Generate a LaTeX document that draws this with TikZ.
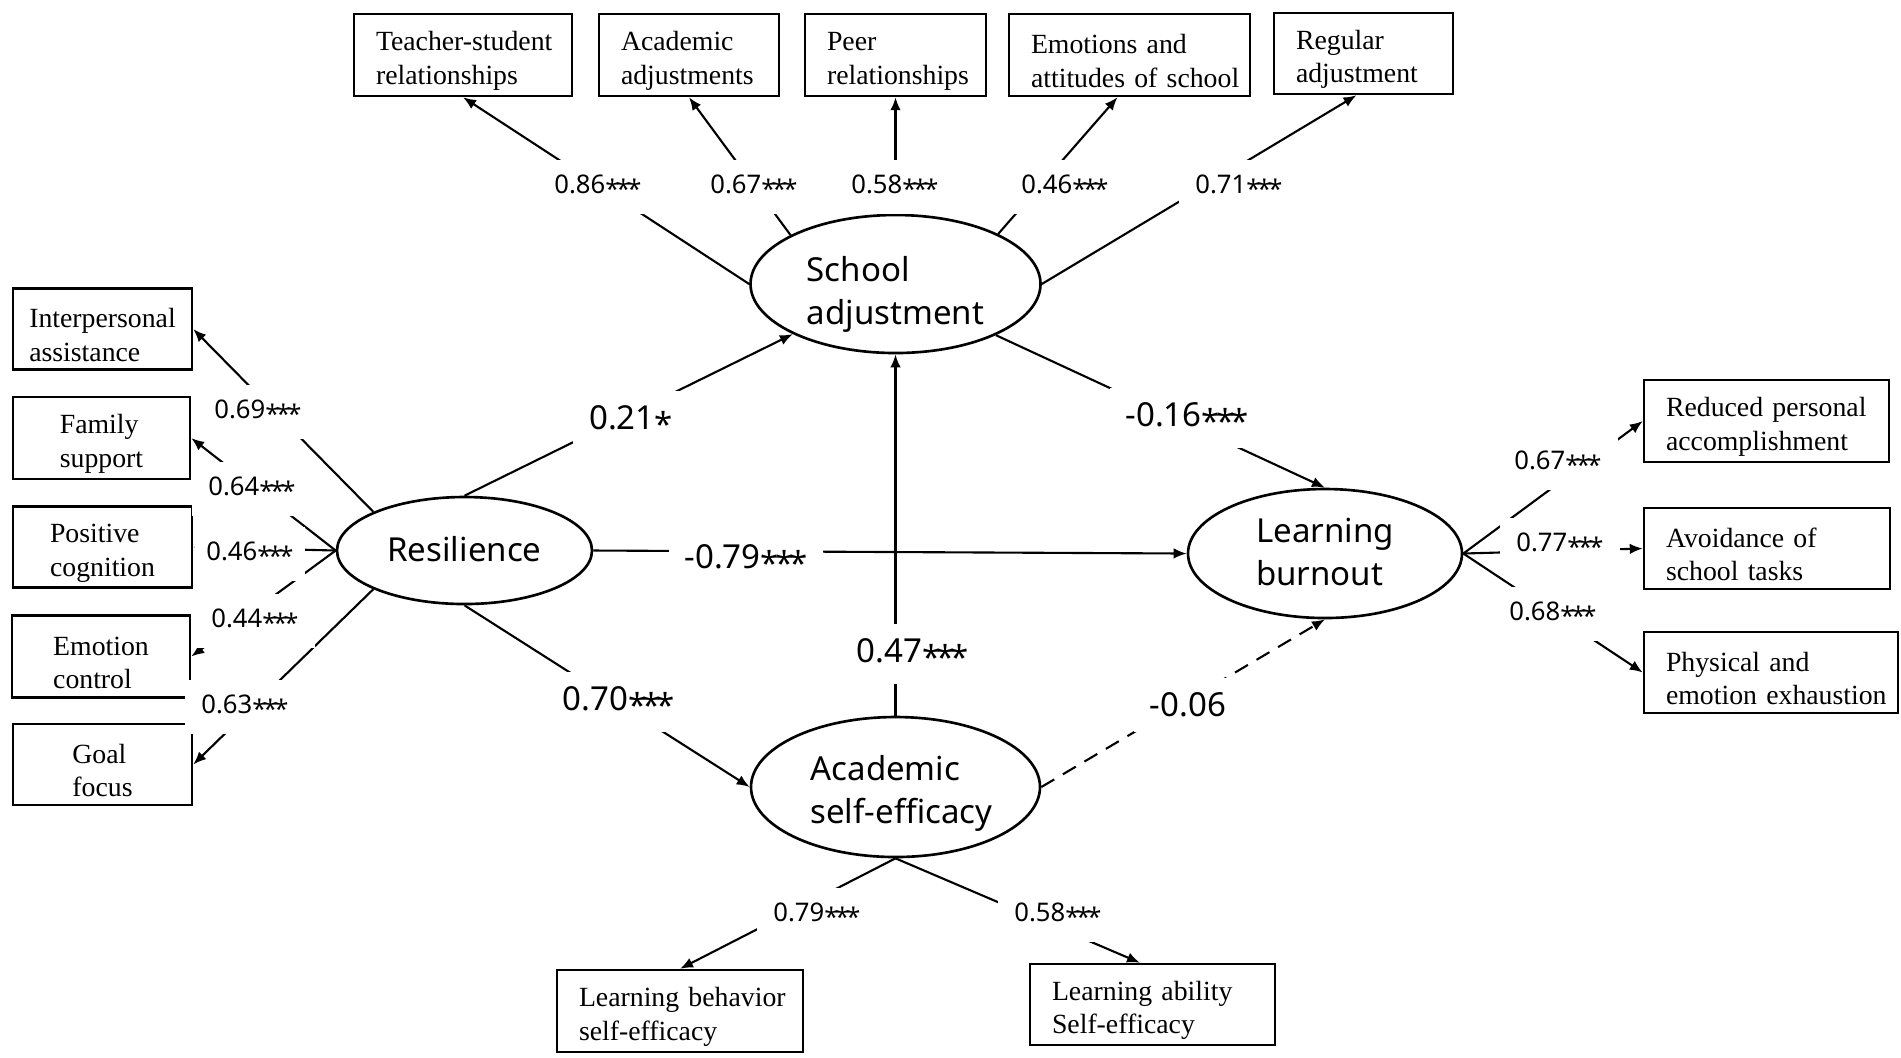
\documentclass[tikz,border=0pt]{standalone}
\usepackage{fontspec}
\setmainfont{Liberation Serif}
\newfontfamily\sansf{Noto Sans}
\usetikzlibrary{arrows.meta,shapes.geometric}
\newcommand{\sig}[1]{\raisebox{-0.2em}{#1}}
\newcommand{\tri}{\sig{*\kern-0.12em*\kern-0.12em*}}
\newcommand{\twol}[2]{\mbox{\rule{0pt}{1.12em}#1}\\\mbox{#2}}
\newcommand{\ltext}[3]{\hspace*{#1}\raisebox{-#2}[\height][\depth]{\begin{tabular}{@{}l@{}}#3\end{tabular}}}
\begin{document}
\begin{tikzpicture}[x=0.1mm,y=-0.1mm]
\tikzset{
  tbox/.style={draw, line width=0.7pt, inner sep=0pt, align=left,
               font=\fontsize{7.9}{9.6}\selectfont},
  lat/.style={draw, ellipse, line width=0.75pt, inner sep=0pt,
              font=\sansf\fontsize{9.4}{12.3}\selectfont},
  conn/.style={line width=0.6pt, -{Latex[length=1.3mm,width=1.05mm]}},
  dconn/.style={conn, dash pattern=on 1.5mm off 1mm},
  slab/.style={fill=white, inner xsep=1.6mm, inner ysep=1.5mm,
               font=\sansf\fontsize{7.3}{9}\selectfont},
  blab/.style={fill=white, inner xsep=1.6mm, inner ysep=1.5mm,
               font=\sansf\fontsize{9.4}{11}\selectfont}
}
\fill[white] (0,0) rectangle (1901,1057);
\useasboundingbox (0,0) rectangle (1901,1057);

% latent variables
\node[lat, minimum width=29mm, minimum height=13.8mm] (sa) at (895.5,284) {\ltext{0mm}{1.0mm}{School\\adjustment}};
\node[lat, minimum width=25.5mm, minimum height=10.7mm] (res) at (464.5,550.5) {\ltext{0mm}{0.2mm}{Resilience}};
\node[lat, minimum width=27.4mm, minimum height=12.9mm] (lb) at (1325,553.5) {\ltext{0mm}{0.2mm}{Learning\\burnout}};
\node[lat, minimum width=28.9mm, minimum height=14mm] (ase) at (895.5,787) {\ltext{1.2mm}{0.6mm}{Academic\\self-efficacy}};

% resilience indicators
\node[tbox, minimum width=17.9mm, minimum height=8.1mm] (ip) at (102.5,329) {\twol{Interpersonal}{assistance}};
\node[tbox, minimum width=17.7mm, minimum height=8.2mm] (fs) at (101.5,438) {\twol{Family}{support}};
\node[tbox, minimum width=17.9mm, minimum height=8.1mm] (pc) at (102.5,547) {\twol{Positive}{cognition}};
\node[tbox, minimum width=17.8mm, minimum height=8.2mm] (ec) at (101,656.5) {\twol{Emotion}{control}};
\node[tbox, minimum width=17.9mm, minimum height=8.1mm] (gf) at (102.5,764.5) {\twol{Goal}{focus}};

% school adjustment indicators
\node[tbox, minimum width=21.8mm, text width=17.4mm, minimum height=8.2mm] (ts) at (463,55) {\twol{Teacher-student}{relationships}};
\node[tbox, minimum width=18.0mm, text width=13.6mm, minimum height=8.2mm] (ac) at (689,55) {\twol{Academic}{adjustments}};
\node[tbox, minimum width=18.1mm, text width=13.7mm, minimum height=8.2mm] (pr) at (895.5,55) {\twol{Peer}{relationships}};
\node[tbox, minimum width=24.1mm, text width=19.7mm, minimum height=8.2mm] (em) at (1129.5,55) {\twol{Emotions and}{attitudes of school}};
\node[tbox, minimum width=17.9mm, text width=13.5mm, minimum height=8.1mm] (rg) at (1363.5,53.5) {\twol{Regular}{adjustment}};

% learning burnout indicators
\node[tbox, minimum width=24.5mm, text width=20.1mm, minimum height=8.2mm] (rp) at (1766.5,421) {\twol{Reduced personal}{accomplishment}};
\node[tbox, minimum width=24.6mm, text width=20.2mm, minimum height=8.1mm] (av) at (1767,548.5) {\twol{Avoidance of}{school tasks}};
\node[tbox, minimum width=25.4mm, text width=21.0mm, minimum height=8.1mm] (pe) at (1771,672.5) {\twol{Physical and}{emotion exhaustion}};

% academic self-efficacy indicators
\node[tbox, minimum width=24.6mm, text width=20.2mm, minimum height=8.2mm] (lbs) at (680,1011) {\twol{Learning behavior}{self-efficacy}};
\node[tbox, minimum width=24.5mm, text width=20.1mm, minimum height=8.1mm] (las) at (1152.5,1004.5) {\twol{Learning ability}{Self-efficacy}};

% connectors: loadings
\draw[conn] (sa.west) -- (ts.south);
\draw[conn] (sa.155) -- (ac.south);
\draw[conn] (sa.north) -- (pr.south);
\draw[conn] (sa.26) -- ([xshift=-1.2mm]em.south);
\draw[conn] (sa.east) -- ([xshift=-0.7mm]rg.south);

\draw[conn] (res.157) -- (ip.east);
\draw[conn] (res.west) -- (fs.east);
\draw[conn] (res.west) -- (pc.east);
\draw[conn] (res.west) -- (ec.east);
\draw[conn] (res.203) -- (gf.east);

\draw[conn] (lb.east) -- (rp.west);
\draw[conn] (lb.east) -- (av.west);
\draw[conn] (lb.east) -- (pe.west);

\draw[conn] (ase.south) -- (lbs.north);
\draw[conn] (ase.south) -- ([xshift=-1.25mm]las.north);

% structural paths
\draw[conn] (res.north) -- (sa.206);
\draw[conn] (res.east) -- (lb.west);
\draw[conn] (res.south) -- (ase.west);
\draw[conn] (ase.north) -- (sa.south);
\draw[conn] (sa.333) -- (lb.north);
\draw[dconn] (ase.east) -- (lb.south);

% labels
\node[slab] (l86) at (598,187) {0.86\tri};
\node[slab] (l67) at (754,187) {0.67\tri};
\node[slab] (l58) at (895,187) {0.58\tri};
\node[slab] (l46) at (1065,187) {0.46\tri};
\node[slab] (l71) at (1239,187) {0.71\tri};

\node[slab] (l69) at (258,412) {0.69\tri};
\node[slab] (l64) at (252,489) {0.64\tri};
\node[slab, inner xsep=1.1mm] (l46b) at (250,554) {0.46\tri};
\node[slab] (l44) at (255,621) {0.44\tri};
\node[slab] (l63) at (245,707) {0.63\tri};

\node[slab] (l67b) at (1558,463) {0.67\tri};
\node[slab] (l77) at (1560,545) {0.77\tri};
\node[slab] (l68) at (1553,614) {0.68\tri};

\node[slab] (l79) at (817,915) {0.79\tri};
\node[slab] (l58b) at (1058,915) {0.58\tri};

\node[blab] (l21) at (631,421) {0.21\sig{*}};
\node[blab] (l79b) at (746,560) {-0.79\tri};
\node[blab] (l70) at (619,702) {0.70\tri};
\node[blab] (l47) at (913,654) {0.47\tri};
\node[blab] (l16) at (1187,418) {-0.16\tri};
\node[blab] (l06) at (1188,705) {-0.06};
\end{tikzpicture}
\end{document}
